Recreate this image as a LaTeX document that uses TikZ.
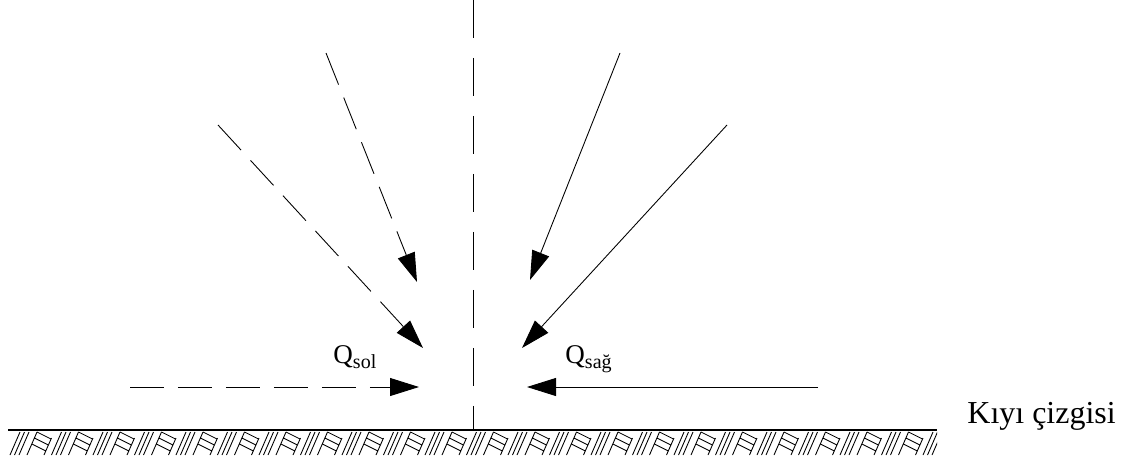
\documentclass[tikz,border=0pt]{standalone}
\usepackage{fontspec}
\setmainfont{Liberation Serif}
\usetikzlibrary{arrows.meta}

\begin{document}
\begin{tikzpicture}[x=0.02cm, y=-0.02cm, line width=0.5pt,
    flow/.style={-{Triangle[length=0.58cm, width=0.36cm]}},
    leftflow/.style={flow, dash pattern=on 0.68cm off 0.28cm},
    axis/.style={dash pattern=on 0.76cm off 0.4cm},
    lbl/.style={inner sep=0pt, anchor=base west}]
    \useasboundingbox (0,0) rectangle (1132,460);
    \coordinate (top) at (473,0);
    \coordinate (foot) at (473,430);
    \coordinate (shoreW) at (8,430);
    \coordinate (shoreE) at (937,430);
    \coordinate (l1s) at (326,53);
    \coordinate (l1e) at (417,282);
    \coordinate (l2s) at (218,125);
    \coordinate (l2e) at (423,348);
    \coordinate (l3s) at (130,387);
    \coordinate (l3e) at (419,387);
    \coordinate (r1s) at (620,53);
    \coordinate (r1e) at (530,280);
    \coordinate (r2s) at (727,125);
    \coordinate (r2e) at (522,348);
    \coordinate (r3s) at (818,387);
    \coordinate (r3e) at (527,387);
    \draw[axis] (top) -- (foot);
    \draw[line width=0.8pt] (shoreW) -- (shoreE);
    \begin{scope}
        \clip (8,431) rectangle (937,458);
        \foreach \i in {0,...,22} {
            \pgfmathsetmacro{\x}{10+41.5*\i}
            \draw ({\x},455) -- ++(10,-23) ({\x+4.5},455) -- ++(10,-23) ({\x+9},455) -- ++(10,-23)
                ({\x+17},455) -- ++(10,-23)
                ({\x+27},432) -- ++(14,7) ({\x+24.4},438) -- ++(14,7) ({\x+21.8},444) -- ++(14,7)
                ({\x+34},455) -- ++(7.5,-17);
        }
    \end{scope}
    \draw[leftflow] (l1s) -- (l1e);
    \draw[leftflow] (l2s) -- (l2e);
    \draw[leftflow] (l3s) -- (l3e);
    \draw[flow] (r1s) -- (r1e);
    \draw[flow] (r2s) -- (r2e);
    \draw[flow] (r3s) -- (r3e);
    \node[lbl] (qsol) at (333,363) {\fontsize{15.4pt}{18pt}\selectfont Q\raisebox{-0.45ex}{\fontsize{11.4pt}{13pt}\selectfont sol}};
    \node[lbl] (qsag) at (565,363) {\fontsize{15.4pt}{18pt}\selectfont Q\raisebox{-0.45ex}{\fontsize{11.4pt}{13pt}\selectfont sağ}};
    \node[lbl] (shore) at (967,423) {\fontsize{18.2pt}{22pt}\selectfont Kıyı çizgisi};
\end{tikzpicture}
\end{document}
